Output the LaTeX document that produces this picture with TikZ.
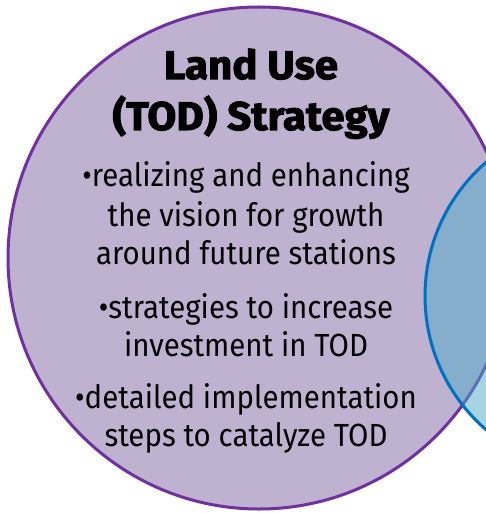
\documentclass[tikz,border=0pt]{standalone}
\usepackage{fontspec}
\setmainfont{Fira Sans}[FakeStretch=0.92]
\newfontfamily\heavyfont{Fira Sans}[BoldFeatures={FakeBold=2.5, FakeStretch=1.05}]
\definecolor{usefill}{HTML}{8064A2}
\definecolor{useedge}{HTML}{7030A0}
\definecolor{transitfill}{HTML}{4BACC6}
\definecolor{transitedge}{HTML}{0070C0}
\tikzset{
	headtext/.style={anchor=base, inner sep=0pt, font=\heavyfont\bfseries\fontsize{40}{40}\selectfont},
	bodytext/.style={anchor=base, inner sep=0pt, font=\fontsize{32}{32}\selectfont}
}

\begin{document}
\begin{tikzpicture}[x=1pt, y=-1pt]
		%%%%% START %%%%%
		\useasboundingbox (0, 0) rectangle (485, 513);
		
		% land use circle
		\draw[line width=3pt, color=useedge, fill=usefill, fill opacity=0.5] (259, 258) circle (251);
		
		% transit circle, lying over the first one
		\draw[line width=3pt, color=transitedge, fill=transitfill, fill opacity=0.5] (602, 296) circle (177);
		
		\node[headtext] (head1) at (251, 79) {Land Use};
		\node[headtext] (head2) at (251, 130) {(TOD) Strategy};
		
		\foreach \y/\txt [count=\i] in {
			186/{•realizing and enhancing},
			226/{the vision for growth},
			264/{around future stations},
			318/{•strategies to increase},
			356/{investment in TOD},
			408/{•detailed implementation},
			446/{steps to catalyze TOD}}
			\node[bodytext] (line\i) at (246, \y) {\txt};
		
		%%%%% END %%%%%
	\end{tikzpicture}
\end{document}
